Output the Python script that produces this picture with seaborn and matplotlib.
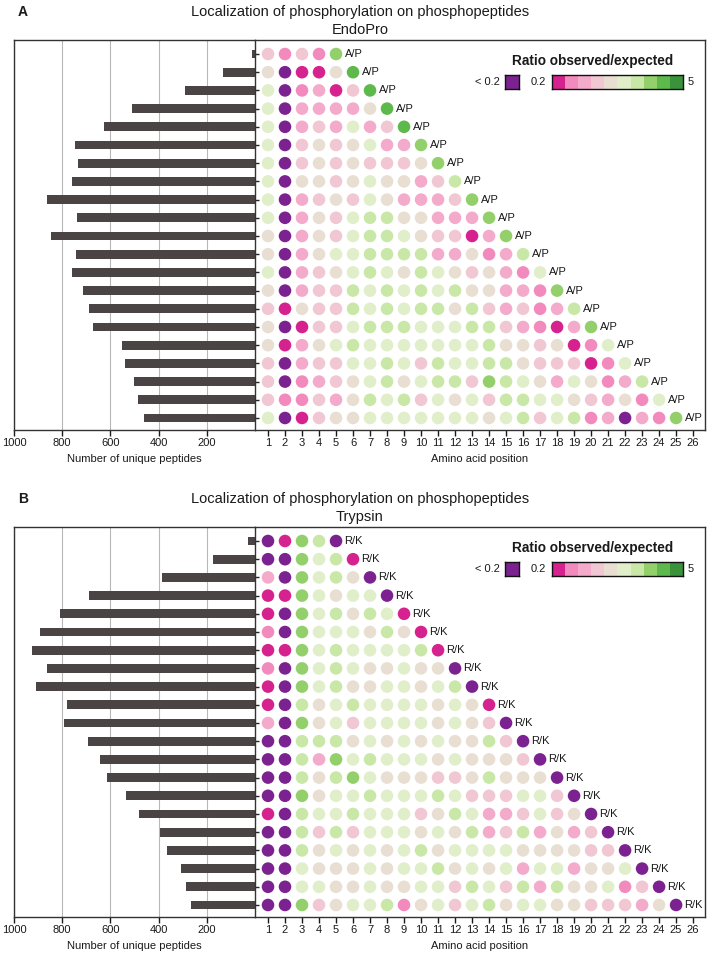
import numpy as np
import pandas as pd
import matplotlib
matplotlib.use("Agg")
import matplotlib.pyplot as plt
from matplotlib.colors import ListedColormap
import seaborn as sns

sns.set_theme(style="white")
plt.rcParams["font.family"] = ["Liberation Sans", "DejaVu Sans"]

W, H = 709, 955

# colour classes: "P" = ratio below 0.2, "0".."9" = bins from 0.2 (pink) to 5 (green)
purple = "#7b2290"
bin_colors = ["#d6228e", "#f38abd", "#f3aacb", "#f0c7d2", "#e9ded2",
              "#e0eec9", "#c9e8a8", "#93d06b", "#5db94b", "#3a923a"]

"""
EndoPro data: bar counts per peptide length and dot classes per position
"""
endopro_counts = [12, 134, 289, 512, 625, 748, 734, 759, 864, 740, 846,
                  744, 758, 715, 687, 672, 550, 538, 501, 487, 459]
endopro_rows = [
    "3131",
    "4P004",
    "5P1203",
    "5P22224",
    "5P232523",
    "5P3434522",
    "5P34343334",
    "5P443454423",
    "5P2343542223",
    "5P24356644222",
    "4P243566543302",
    "4P2455666622412",
    "5P23456546543421",
    "4P233656565644221",
    "304336565664632312",
    "4P03356665556632102",
    "40245655555556443401",
    "3P2335565365566433301",
    "3P12345645663765425412",
    "31132465635453665543241",
    "5P0344555555545635612P21",
]
endopro_end = "788887767776576755657"

"""
Trypsin data
"""
trypsin_counts = [30, 173, 384, 688, 811, 891, 924, 863, 910, 780, 791,
                  693, 645, 615, 536, 482, 396, 367, 305, 285, 264]
trypsin_rows = [
    "P076",
    "PP756",
    "2P7564",
    "0075455",
    "0P756465",
    "1P7555464",
    "0075655556",
    "1P756544544",
    "0P7564455456",
    "0P64565555454",
    "2P745355554543",
    "PP6664545454463",
    "PP62756555454443",
    "PP646754443346444",
    "PP7455655565333553",
    "0P65565553465223534",
    "PP636355545462362423",
    "PP6454545645555444433",
    "PP54445455645452552445",
    "PP554454455365362644513",
    "PP7345561453564554433324",
]
trypsin_end = "P0PP000PP0PPPPPPPPPPP"

palette = {"P": purple}
for k, c in enumerate(bin_colors):
    palette[str(k)] = c

fig = plt.figure(figsize=(W / 100, H / 100), dpi=100)
text_color = "#1a1a1a"
spine_color = "#333333"
small = 8


def long_table(rows, ends):
    recs = []
    for i, r in enumerate(rows):
        for j, c in enumerate(r):
            recs.append((i + 1, j + 1, c))
        recs.append((i + 1, len(r) + 1, ends[i]))
    return pd.DataFrame(recs, columns=["row", "pos", "cls"])


def panel(top, letter, subtitle, counts, rows, ends, end_label):
    bottom = top + 390
    n = len(counts)
    ylim = (n + 0.66, 0.23)

    # titles
    fig.text(18 / W, 1 - (top - 28) / H, letter, fontsize=10, fontweight="bold",
             ha="left", va="center", color=text_color)
    fig.text(360 / W, 1 - (top - 28) / H, "Localization of phosphorylation on phosphopeptides",
             fontsize=10.5, ha="center", va="center", color=text_color)
    fig.text(360 / W, 1 - (top - 10) / H, subtitle,
             fontsize=10.5, ha="center", va="center", color=text_color)

    # left: bar chart of peptide counts
    axb = fig.add_axes([14 / W, 1 - bottom / H, 241 / W, 390 / H])
    bars = pd.DataFrame({"row": np.arange(1, n + 1), "count": counts})
    sns.barplot(data=bars, x="count", y="row", orient="h", native_scale=True,
                color="#4b4444", saturation=1, width=0.48, errorbar=None,
                linewidth=0, ax=axb)
    axb.set_xlim(1000, 0)
    axb.set_ylim(*ylim)
    axb.set_xticks([1000, 800, 600, 400, 200])
    axb.set_yticks([])
    axb.xaxis.grid(True, color="#b8b8b8", lw=0.8)
    axb.set_axisbelow(True)
    axb.tick_params(axis="x", bottom=True, direction="out", length=4, width=1,
                    labelsize=small, pad=2, colors=text_color)
    axb.set_xlabel("Number of unique peptides", fontsize=small, color=text_color, labelpad=4)
    axb.set_ylabel("")
    for s in ["left", "top", "bottom"]:
        axb.spines[s].set_color(spine_color)
        axb.spines[s].set_linewidth(1)
    axb.spines["right"].set_visible(False)

    # right: dot matrix of observed/expected ratio
    axd = fig.add_axes([255 / W, 1 - bottom / H, 450 / W, 390 / H])
    df = long_table(rows, ends)
    sns.scatterplot(data=df, x="pos", y="row", hue="cls", palette=palette, s=82,
                    linewidth=0, legend=False, ax=axd)
    for i, r in enumerate(rows):
        axd.text(len(r) + 1.5, i + 1, end_label, fontsize=small, ha="left",
                 va="center", color=text_color)
    axd.set_xlim(0.235, 26.7)
    axd.set_ylim(*ylim)
    axd.set_xticks(range(1, 27))
    axd.set_yticks(range(1, n + 1))
    axd.set_yticklabels([])
    axd.tick_params(axis="y", left=True, direction="in", length=3, width=1)
    axd.tick_params(axis="x", bottom=True, direction="out", length=4, width=1,
                    labelsize=small, pad=2, colors=text_color)
    axd.set_xlabel("Amino acid position", fontsize=small, color=text_color, labelpad=4)
    axd.set_ylabel("")
    for s in axd.spines.values():
        s.set_color(spine_color)
        s.set_linewidth(1)

    # legend
    fig.text(593 / W, 1 - (top + 21) / H, "Ratio observed/expected", fontsize=9.8,
             fontweight="bold", ha="center", va="center", color=text_color)
    pax = fig.add_axes([505 / W, 1 - (top + 49) / H, 14 / W, 14 / H])
    pax.set_facecolor(purple)
    cax = fig.add_axes([552 / W, 1 - (top + 49) / H, 131 / W, 14 / H])
    cax.imshow(np.arange(10)[None, :], cmap=ListedColormap(bin_colors), aspect="auto")
    for a in (pax, cax):
        a.set_xticks([])
        a.set_yticks([])
        for s in a.spines.values():
            s.set_color("#111111")
            s.set_linewidth(1)
    fig.text(500 / W, 1 - (top + 42) / H, "< 0.2", fontsize=small, ha="right", va="center", color=text_color)
    fig.text(546 / W, 1 - (top + 42) / H, "0.2", fontsize=small, ha="right", va="center", color=text_color)
    fig.text(688 / W, 1 - (top + 42) / H, "5", fontsize=small, ha="left", va="center", color=text_color)


panel(40, "A", "EndoPro", endopro_counts, endopro_rows, endopro_end, "A/P")
panel(527, "B", "Trypsin", trypsin_counts, trypsin_rows, trypsin_end, "R/K")

fig.savefig("out.png", dpi=100)
